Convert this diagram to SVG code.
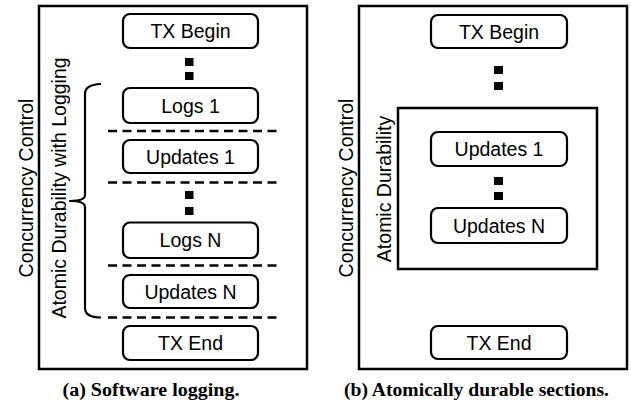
<svg xmlns="http://www.w3.org/2000/svg" width="631" height="405" viewBox="0 0 631 405">
  <style>
    .frame { fill: none; stroke: #000; stroke-width: 2.5; }
    .node rect { fill: #fff; stroke: #000; stroke-width: 2.2; }
    .label { font-family: "Liberation Sans", Arial, sans-serif; font-size: 19.5px; fill: #000; }
    .mid { text-anchor: middle; }
    .sep { stroke: #000; stroke-width: 2.5; stroke-dasharray: 9 5.5; fill: none; }
    .dot { fill: #000; }
    .brace { fill: none; stroke: #000; stroke-width: 2.2; stroke-linejoin: round; }
    .caption { font-family: "Liberation Serif", "Times New Roman", serif; font-weight: bold; font-size: 18.5px; fill: #000; text-anchor: middle; }
  </style>
  <rect width="631" height="405" fill="#fff"/>

  <!-- (a) software logging panel -->
  <g id="panel-a">
    <rect class="frame" x="39" y="6" width="268" height="363"/>
    <text class="label mid" transform="translate(32.5,188) rotate(-90)">Concurrency Control</text>
    <text class="label mid" transform="translate(65.5,188) rotate(-90)">Atomic Durability with Logging</text>
  </g>

  <g id="a-tx-begin" class="node">
    <rect x="123" y="14" width="135" height="34" rx="7"/>
    <text class="label mid" x="190.5" y="38">TX Begin</text>
  </g>
  <g id="a-logs-1" class="node">
    <rect x="123" y="88" width="135" height="35" rx="7"/>
    <text class="label mid" x="190.5" y="112.5">Logs 1</text>
  </g>
  <g id="a-updates-1" class="node">
    <rect x="123" y="140" width="135" height="33" rx="7"/>
    <text class="label mid" x="190.5" y="163.5">Updates 1</text>
  </g>
  <g id="a-logs-n" class="node">
    <rect x="123" y="222.5" width="135" height="35.5" rx="7"/>
    <text class="label mid" x="190.5" y="247">Logs N</text>
  </g>
  <g id="a-updates-n" class="node">
    <rect x="123" y="275" width="135" height="33" rx="7"/>
    <text class="label mid" x="190.5" y="298.5">Updates N</text>
  </g>
  <g id="a-tx-end" class="node">
    <rect x="123" y="326" width="135" height="34" rx="7"/>
    <text class="label mid" x="190.5" y="350">TX End</text>
  </g>

  <g id="a-connectors">
    <!-- ellipsis marks between steps -->
    <rect class="dot" x="185" y="58" width="8.5" height="8"/>
    <rect class="dot" x="185" y="72" width="8.5" height="8"/>
    <rect class="dot" x="185" y="191" width="8.5" height="8"/>
    <rect class="dot" x="185" y="207" width="8.5" height="8"/>
    <!-- section boundaries -->
    <line class="sep" x1="108" y1="131" x2="277" y2="131"/>
    <line class="sep" x1="108" y1="182.5" x2="277" y2="182.5"/>
    <line class="sep" x1="108" y1="265.5" x2="277" y2="265.5"/>
    <line class="sep" x1="108" y1="317.5" x2="277" y2="317.5"/>
    <!-- curly brace spanning the logged region -->
    <path class="brace" d="M101 84 Q85 84.5 85 94 L85 195 Q85 201 70 201 Q85 201 85 207 L85 308 Q85 317.5 101 317.5"/>
  </g>

  <!-- (b) atomically durable sections panel -->
  <g id="panel-b">
    <rect class="frame" x="359" y="6" width="268" height="363"/>
    <text class="label mid" transform="translate(352.5,188) rotate(-90)">Concurrency Control</text>
  </g>
  <g id="b-atomic-durability">
    <rect class="frame" x="398" y="108" width="199" height="161"/>
    <text class="label mid" transform="translate(391,189) rotate(-90)">Atomic Durability</text>
  </g>

  <g id="b-tx-begin" class="node">
    <rect x="431" y="15" width="136" height="33" rx="7"/>
    <text class="label mid" x="499" y="38.5">TX Begin</text>
  </g>
  <g id="b-updates-1" class="node">
    <rect x="431" y="132" width="136" height="34" rx="7"/>
    <text class="label mid" x="499" y="156">Updates 1</text>
  </g>
  <g id="b-updates-n" class="node">
    <rect x="431" y="208" width="136" height="35" rx="7"/>
    <text class="label mid" x="499" y="232.5">Updates N</text>
  </g>
  <g id="b-tx-end" class="node">
    <rect x="431" y="326" width="136" height="33" rx="7"/>
    <text class="label mid" x="499" y="349.5">TX End</text>
  </g>

  <g id="b-connectors">
    <rect class="dot" x="494" y="66" width="9" height="8"/>
    <rect class="dot" x="494" y="82" width="9" height="8"/>
    <rect class="dot" x="494" y="177" width="9" height="8"/>
    <rect class="dot" x="494" y="192" width="9" height="8"/>
  </g>

  <g id="captions">
    <text class="caption" x="151" y="396" textLength="177" lengthAdjust="spacingAndGlyphs">(a) Software logging.</text>
    <text class="caption" x="476.5" y="396" textLength="265" lengthAdjust="spacingAndGlyphs">(b) Atomically durable sections.</text>
  </g>
</svg>
